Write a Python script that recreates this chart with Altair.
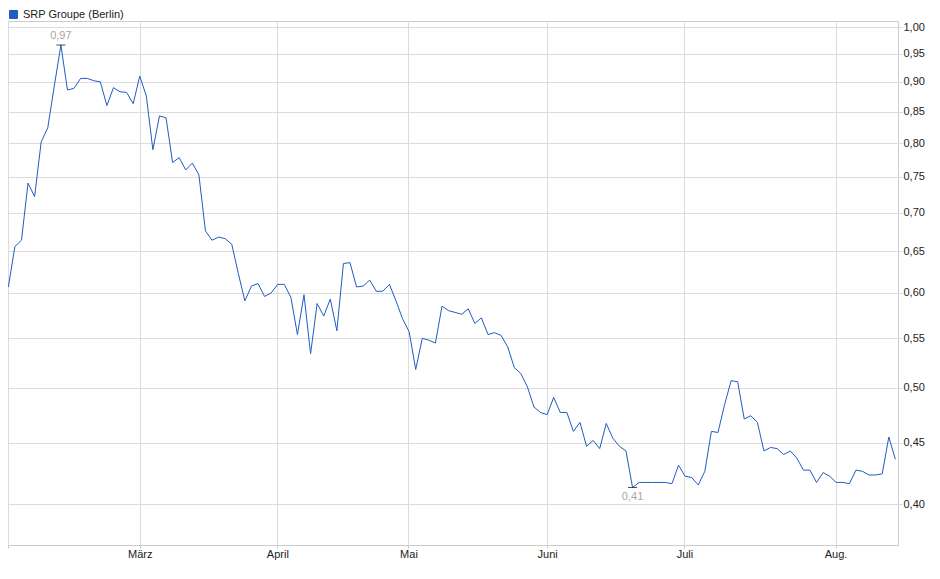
import altair as alt
import pandas as pd

series_name = "SRP Groupe (Berlin)"

# trading-day index of each quote
trading_day = list(range(136))

# closing prices
price = [
    0.607, 0.656, 0.664, 0.741, 0.722, 0.802, 0.824, 0.893, 0.966, 0.886,
    0.889, 0.906, 0.906, 0.902, 0.900, 0.860, 0.890, 0.883, 0.882, 0.863,
    0.910, 0.876, 0.790, 0.843, 0.840, 0.771, 0.778, 0.760, 0.770, 0.753,
    0.676, 0.664, 0.668, 0.666, 0.659, 0.623, 0.591, 0.608, 0.611, 0.596,
    0.600, 0.610, 0.610, 0.595, 0.554, 0.598, 0.534, 0.588, 0.574, 0.593,
    0.558, 0.635, 0.636, 0.607, 0.608, 0.615, 0.602, 0.602, 0.610, 0.591,
    0.571, 0.557, 0.518, 0.550, 0.548, 0.545, 0.585, 0.580, 0.578, 0.576,
    0.582, 0.566, 0.572, 0.554, 0.556, 0.553, 0.541, 0.520, 0.514, 0.501,
    0.482, 0.477, 0.475, 0.491, 0.477, 0.477, 0.460, 0.468, 0.447, 0.452,
    0.445, 0.467, 0.454, 0.447, 0.443, 0.413, 0.417, 0.417, 0.417, 0.417,
    0.417, 0.416, 0.431, 0.422, 0.421, 0.415, 0.426, 0.460, 0.459, 0.484,
    0.507, 0.506, 0.471, 0.474, 0.468, 0.443, 0.446, 0.445, 0.440, 0.443,
    0.437, 0.427, 0.427, 0.417, 0.425, 0.422, 0.417, 0.417, 0.416, 0.427,
    0.426, 0.423, 0.423, 0.424, 0.455, 0.436,
]

# month boundaries (in trading-day units) and their labels
month_pos = [0, 20.0, 40.94, 60.9, 82.0, 102.9, 125.9]
month_labels = ["", "März", "April", "Mai", "Juni", "Juli", "Aug."]

# price axis ticks
y_ticks = [0.40, 0.45, 0.50, 0.55, 0.60, 0.65, 0.70, 0.75, 0.80, 0.85, 0.90, 0.95, 1.00]

line_color = "#1f5cc4"
grid_color = "#dcdcdc"
font = "Liberation Sans"

df = pd.DataFrame({"day": trading_day, "price": price, "series": series_name})


def de_fmt(v):
    return f"{v:.2f}".replace(".", ",")


hi = df.loc[[df["price"].idxmax()]].copy()
hi["label"] = hi["price"].map(de_fmt)
lo = df.loc[[df["price"].idxmin()]].copy()
lo["label"] = lo["price"].map(de_fmt)

x_label_expr = " : ".join(
    f"datum.value == {p} ? '{l}'" for p, l in zip(month_pos, month_labels)
) + " : ''"

x_scale = alt.Scale(domain=[-0.05, 135.4], nice=False, zero=False)
y_scale = alt.Scale(type="log", domain=[0.3698, 1.0116], nice=False)

x_enc = alt.X(
    "day:Q",
    scale=x_scale,
    axis=alt.Axis(
        values=month_pos,
        labelExpr=x_label_expr,
        grid=True,
        gridColor=grid_color,
        domain=False,
        tickColor="#c8c8c8",
        tickSize=3,
        labelPadding=0,
        labelFontSize=11,
        labelFont=font,
        labelColor="#222222",
        labelFlush=False,
        labelOverlap=False,
        title=None,
    ),
)

y_enc = alt.Y(
    "price:Q",
    scale=y_scale,
    axis=alt.Axis(
        orient="right",
        values=y_ticks,
        labelExpr="replace(format(datum.value, '.2f'), '.', ',')",
        grid=True,
        gridColor=grid_color,
        domain=False,
        tickColor=grid_color,
        tickSize=4,
        labelPadding=1,
        labelFontSize=11,
        labelFont=font,
        labelColor="#222222",
        labelFlush=False,
        labelOverlap=False,
        title=None,
    ),
)

line = alt.Chart(df).mark_line(strokeWidth=1, clip=True).encode(
    x=x_enc,
    y=y_enc,
    color=alt.Color(
        "series:N",
        scale=alt.Scale(domain=[series_name], range=[line_color]),
        legend=alt.Legend(
            title=None,
            orient="none",
            legendX=0,
            legendY=-12,
            symbolType="square",
            symbolSize=64,
            symbolFillColor=line_color,
            symbolStrokeColor="#0d2d6e",
            symbolStrokeWidth=1,
            labelFontSize=11,
            labelFont=font,
            labelColor="#222222",
            padding=0,
            symbolOffset=0,
            labelOffset=4,
        ),
    ),
)

hi_tick = alt.Chart(hi).mark_tick(orient="horizontal", size=9, thickness=1, color="black").encode(
    x="day:Q", y="price:Q"
)
lo_tick = alt.Chart(lo).mark_tick(orient="horizontal", size=9, thickness=1, color="black").encode(
    x="day:Q", y="price:Q"
)
hi_text = alt.Chart(hi).mark_text(dy=-9, fontSize=11, font=font, color="#a9a59f").encode(
    x="day:Q", y="price:Q", text="label:N"
)
lo_text = alt.Chart(lo).mark_text(dy=10, fontSize=11, font=font, color="#a9a59f").encode(
    x="day:Q", y="price:Q", text="label:N"
)

chart = (
    alt.layer(line, hi_tick, lo_tick, hi_text, lo_text)
    .properties(
        width=890,
        height=524,
        autosize=alt.AutoSizeParams(type="none"),
        padding={"left": 0, "top": 13, "right": 32, "bottom": 20},
        background="white",
    )
    .configure_view(stroke="#cccccc", strokeWidth=1)
)

chart.save("out.html", embed_options={"renderer": "svg", "actions": False})
